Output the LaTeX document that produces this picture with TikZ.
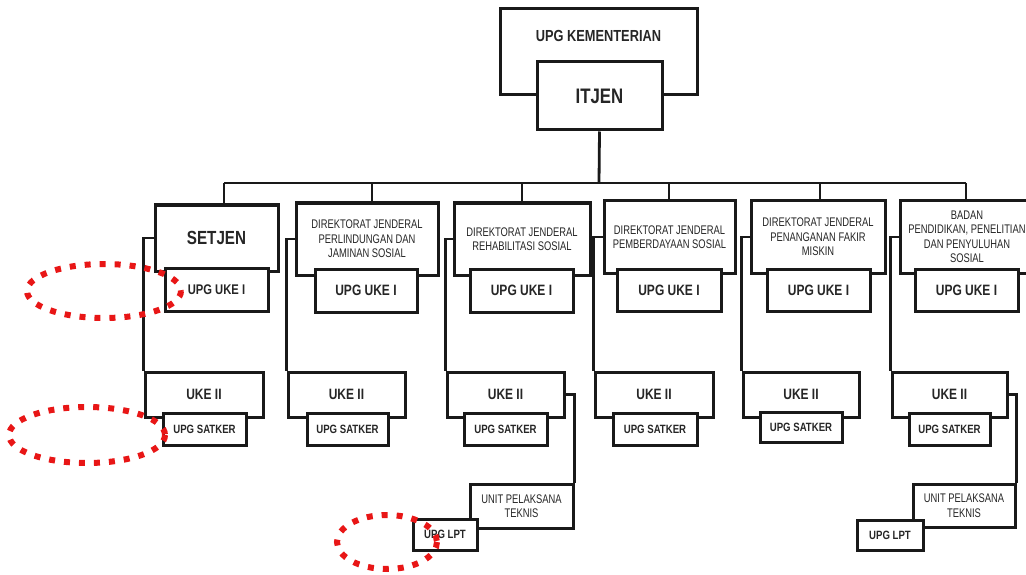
\documentclass[tikz,border=0pt]{standalone}
\usepackage{fontspec}
\newfontfamily\nb[FakeStretch=0.8]{Liberation Sans}
\newfontfamily\nr[FakeStretch=0.75]{Liberation Sans}
\begin{document}
\begin{tikzpicture}[x=1pt,y=-1pt,
  box/.style={draw=black!90, line width=3pt, fill=white, inner sep=0pt, align=center, text=black!85},
  conn/.style={draw=black!90, line width=2.8pt},
  redloop/.style={draw={rgb,255:red,232;green,22;blue,22}, line width=6pt, dash pattern=on 6pt off 9pt},
  fb/.style={font={\nb\bfseries\fontsize{#1}{#1}\selectfont}},
  fr/.style={font={\nr\fontsize{12.5}{14.5}\selectfont}},
]
\clip (0,0) rectangle (1026,575);
\useasboundingbox (0,0) rectangle (1026,575);

% top
\node[box, minimum width=197, minimum height=86] (kem) at (598.5,52) {};
\node[fb=16, text=black!85] (kemtxt) at (598.5,36) {UPG KEMENTERIAN};
\node[box, fb=21, minimum width=125, minimum height=68] (itjen) at (599.5,96) {ITJEN};

% bar coordinates
\coordinate (bar) at (599,183);
\coordinate (b1) at (224,183);
\coordinate (b2) at (372,183);
\coordinate (b3) at (522,183);
\coordinate (b4) at (669,183);
\coordinate (b5) at (820,183);
\coordinate (b6) at (966,183);

% column boxes (parents)
\node[box, fb=19, minimum width=123, minimum height=66] (setjen) at (216.5,238) {SETJEN};
\node[box, fr, minimum width=142, minimum height=72] (dir2) at (367,239) {DIREKTORAT JENDERAL\\PERLINDUNGAN DAN\\JAMINAN SOSIAL};
\node[box, fr, minimum width=136, minimum height=72] (dir3) at (522,239) {DIREKTORAT JENDERAL\\REHABILITASI SOSIAL};
\node[box, fr, minimum width=131, minimum height=72] (dir4) at (669.5,237) {DIREKTORAT JENDERAL\\PEMBERDAYAAN SOSIAL};
\node[box, fr, minimum width=134, minimum height=72] (dir5) at (818,237) {DIREKTORAT JENDERAL\\PENANGANAN FAKIR\\MISKIN};
\node[box, fr, minimum width=134, minimum height=72] (dir6) at (967,237) {BADAN\\PENDIDIKAN, PENELITIAN\\DAN PENYULUHAN\\SOSIAL};

% UKE II boxes
\node[box, fb=15, minimum width=118, minimum height=45] (uk1) at (204,394.5) {UKE II};
\node[box, fb=15, minimum width=117, minimum height=45] (uk2) at (346.5,394.5) {UKE II};
\node[box, fb=15, minimum width=117, minimum height=45] (uk3) at (505.5,394.5) {UKE II};
\node[box, fb=15, minimum width=118, minimum height=45] (uk4) at (654,394.5) {UKE II};
\node[box, fb=15, minimum width=116, minimum height=45] (uk5) at (801,394.5) {UKE II};
\node[box, fb=15, minimum width=115, minimum height=45] (uk6) at (949.5,394.5) {UKE II};

% unit pelaksana
\node[box, fr, minimum width=103, minimum height=44] (unit3) at (521.5,506) {UNIT PELAKSANA\\TEKNIS};
\node[box, fr, minimum width=102, minimum height=43] (unit6) at (964,505.5) {UNIT PELAKSANA\\TEKNIS};

% connectors
\draw[conn] (itjen.south) -- (bar);
\draw[conn] (b1) -- (b6);
\draw[conn] (b1) -- (b1 |- setjen.north);
\draw[conn] (b2) -- (b2 |- dir2.north);
\draw[conn] (b3) -- (b3 |- dir3.north);
\draw[conn] (b4) -- (b4 |- dir4.north);
\draw[conn] (b5) -- (b5 |- dir5.north);
\draw[conn] (b6) -- (b6 |- dir6.north);
\draw[conn] (setjen.west) -| (uk1.north west);
\draw[conn] (dir2.west) -| (uk2.north west);
\draw[conn] (dir3.west) -| (uk3.north west);
\draw[conn] (dir4.west) -| (uk4.north west);
\draw[conn] (dir5.west) -| (uk5.north west);
\draw[conn] (dir6.west) -| (uk6.north west);
\draw[conn] (uk3.east) -| (unit3.north east);
\draw[conn] (uk6.east) -| (unit6.north east);

% UPG UKE I boxes
\node[box, fb=14, minimum width=103, minimum height=43] (u1) at (216.5,289.5) {UPG UKE I};
\node[box, fb=15, minimum width=102, minimum height=43] (u2) at (366,290.5) {UPG UKE I};
\node[box, fb=15, minimum width=103, minimum height=43] (u3) at (521.5,290.5) {UPG UKE I};
\node[box, fb=15, minimum width=104, minimum height=42] (u4) at (669,290) {UPG UKE I};
\node[box, fb=15, minimum width=103, minimum height=42] (u5) at (818.5,290) {UPG UKE I};
\node[box, fb=15, minimum width=103, minimum height=42] (u6) at (966.5,290) {UPG UKE I};

% UPG SATKER boxes
\node[box, fb=12, minimum width=83, minimum height=32] (s1) at (204.5,429) {UPG SATKER};
\node[box, fb=12, minimum width=81, minimum height=32] (s2) at (347.5,429) {UPG SATKER};
\node[box, fb=12, minimum width=83, minimum height=32] (s3) at (505.5,429) {UPG SATKER};
\node[box, fb=12, minimum width=84, minimum height=32] (s4) at (655,429) {UPG SATKER};
\node[box, fb=12, minimum width=82, minimum height=30] (s5) at (801,427) {UPG SATKER};
\node[box, fb=12, minimum width=81, minimum height=32] (s6) at (949.5,429) {UPG SATKER};

% UPG LPT boxes
\node[box, fb=12, minimum width=64, minimum height=31] (l3) at (445,534.5) {UPG LPT};
\node[box, fb=12, minimum width=66, minimum height=30] (l6) at (890,535) {UPG LPT};

% red annotation loops
\draw[redloop] (104,291) ellipse [x radius=77, y radius=27];
\draw[redloop] (87,435) ellipse [x radius=78, y radius=28];
\draw[redloop] (387,542) ellipse [x radius=50, y radius=27];
\end{tikzpicture}
\end{document}
